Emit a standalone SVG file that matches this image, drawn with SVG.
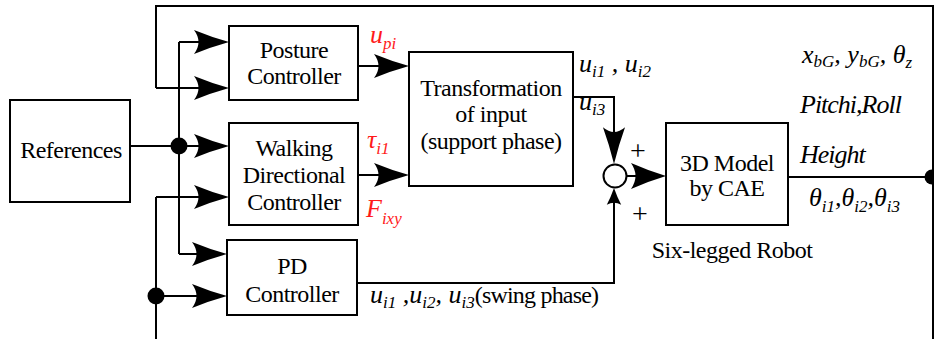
<svg xmlns="http://www.w3.org/2000/svg" width="934" height="339" viewBox="0 0 934 339" font-family="Liberation Serif, serif">
<defs>
<path id="ah" d="M0,0 Q-18,-5 -35,-12 Q-26,0 -35,12 Q-18,5 0,0 Z" fill="#000"/>
</defs>
<rect width="934" height="339" fill="#fff"/>

<g id="connectors" fill="none" stroke="#000" stroke-width="2">
<path d="M156,88 V6 H933 V339"/>
<path d="M156,88 H222"/>
<path d="M179,42 V254"/>
<path d="M179,42 H222"/>
<path d="M130,146 H222"/>
<path d="M179,254 H220"/>
<path d="M156,197 V339"/>
<path d="M156,197 H222"/>
<path d="M156,296 H220"/>
<path d="M358,66 H402"/>
<path d="M358,175 H402"/>
<path d="M573,97 H614 V158"/>
<path d="M357,283 H614 V192"/>
<path d="M627,176 H660"/>
<path d="M788,177 H932"/>
<g stroke="none" fill="#000">
<circle cx="179" cy="146" r="8.5"/>
<circle cx="156" cy="296" r="8.5"/>
<circle cx="932" cy="177" r="7.5"/>
<use href="#ah" transform="translate(229,42)"/>
<use href="#ah" transform="translate(229,88)"/>
<use href="#ah" transform="translate(229,146)"/>
<use href="#ah" transform="translate(229,197)"/>
<use href="#ah" transform="translate(227,254)"/>
<use href="#ah" transform="translate(227,296)"/>
<use href="#ah" transform="translate(409,66)"/>
<use href="#ah" transform="translate(409,175)"/>
<use href="#ah" transform="translate(614,164) rotate(90) scale(1.05,0.92)"/>
<use href="#ah" transform="translate(666,176) scale(1,1.08)"/>
<use href="#ah" transform="translate(614,188) rotate(-90) scale(0.48,0.6)"/>
</g>
</g>

<g id="references">
<rect x="10" y="100" width="120" height="102" fill="#fff" stroke="#000" stroke-width="2"/>
<text font-family="Liberation Serif, serif" font-size="24" letter-spacing="-0.5" text-anchor="middle" x="71" y="158">References</text>
</g>

<g id="posture" font-family="Liberation Serif, serif" font-size="24" letter-spacing="-0.5" text-anchor="middle">
<rect x="229" y="26" width="129" height="74" fill="#fff" stroke="#000" stroke-width="2"/>
<text font-family="Liberation Serif, serif" x="294" y="58">Posture</text>
<text font-family="Liberation Serif, serif" x="294" y="84">Controller</text>
</g>

<g id="walking" font-family="Liberation Serif, serif" font-size="24" letter-spacing="-0.5" text-anchor="middle">
<rect x="229" y="123" width="129" height="102" fill="#fff" stroke="#000" stroke-width="2"/>
<text font-family="Liberation Serif, serif" x="294" y="156">Walking</text>
<text font-family="Liberation Serif, serif" x="294" y="183">Directional</text>
<text font-family="Liberation Serif, serif" x="294" y="210">Controller</text>
</g>

<g id="pd" font-family="Liberation Serif, serif" font-size="24" letter-spacing="-0.5" text-anchor="middle">
<rect x="227" y="240" width="130" height="75" fill="#fff" stroke="#000" stroke-width="2"/>
<text font-family="Liberation Serif, serif" x="292" y="274">PD</text>
<text font-family="Liberation Serif, serif" x="292" y="302">Controller</text>
</g>

<g id="transformation" font-family="Liberation Serif, serif" font-size="24" letter-spacing="-0.5" text-anchor="middle">
<rect x="409" y="52" width="164" height="134" fill="#fff" stroke="#000" stroke-width="2"/>
<text font-family="Liberation Serif, serif" x="491" y="96">Transformation</text>
<text font-family="Liberation Serif, serif" x="491" y="122">of input</text>
<text font-family="Liberation Serif, serif" x="491" y="149">(support phase)</text>
</g>

<g id="sum" font-family="Liberation Serif, serif" font-size="28" text-anchor="middle">
<circle cx="615" cy="176" r="11.5" fill="#fff" stroke="#000" stroke-width="2"/>
<text font-family="Liberation Serif, serif" x="638" y="160">+</text>
<text font-family="Liberation Serif, serif" x="640" y="223">+</text>
</g>

<g id="model" font-family="Liberation Serif, serif" font-size="24" letter-spacing="-0.5" text-anchor="middle">
<rect x="666" y="123" width="122" height="102" fill="#fff" stroke="#000" stroke-width="2"/>
<text font-family="Liberation Serif, serif" x="727" y="171">3D Model</text>
<text font-family="Liberation Serif, serif" x="727" y="196">by CAE</text>
<text font-family="Liberation Serif, serif" x="732" y="258">Six-legged Robot</text>
</g>

<g id="labels" font-family="Liberation Serif, serif" font-style="italic" font-size="26">
<g fill="#ff1a1a">
<text font-family="Liberation Serif, serif" x="370" y="43">u<tspan font-size="17" dy="6">pi</tspan></text>
<text font-family="Liberation Serif, serif" x="367" y="148">τ<tspan font-size="17" dy="6">i1</tspan></text>
<text font-family="Liberation Serif, serif" x="366" y="217">F<tspan font-size="17" dy="7">ixy</tspan></text>
</g>
<text font-family="Liberation Serif, serif" x="579" y="72">u<tspan font-size="17" dy="5">i1</tspan><tspan dy="-5"> , u</tspan><tspan font-size="17" dy="5">i2</tspan></text>
<text font-family="Liberation Serif, serif" x="579" y="110">u<tspan font-size="17" dy="5">i3</tspan></text>
<text font-family="Liberation Serif, serif" x="802" y="63">x<tspan font-size="17" dy="4">bG</tspan><tspan dy="-4">, y</tspan><tspan font-size="17" dy="4">bG</tspan><tspan dy="-4">, θ</tspan><tspan font-size="17" dy="5">z</tspan></text>
<text font-family="Liberation Serif, serif" x="800" y="113" letter-spacing="-1">Pitchi,Roll</text>
<text font-family="Liberation Serif, serif" x="800" y="163" letter-spacing="-1">Height</text>
<text font-family="Liberation Serif, serif" x="809" y="206">θ<tspan font-size="17" dy="6">i1</tspan><tspan dy="-6">,θ</tspan><tspan font-size="17" dy="6">i2</tspan><tspan dy="-6">,θ</tspan><tspan font-size="17" dy="6">i3</tspan></text>
<text font-family="Liberation Serif, serif" x="370" y="303">u<tspan font-size="17" dy="5">i1</tspan><tspan dy="-5"> ,u</tspan><tspan font-size="17" dy="5">i2</tspan><tspan dy="-5">, u</tspan><tspan font-size="17" dy="5">i3</tspan><tspan dy="-5" font-style="normal" font-size="24" letter-spacing="-0.8">(swing phase)</tspan></text>
</g>
</svg>
